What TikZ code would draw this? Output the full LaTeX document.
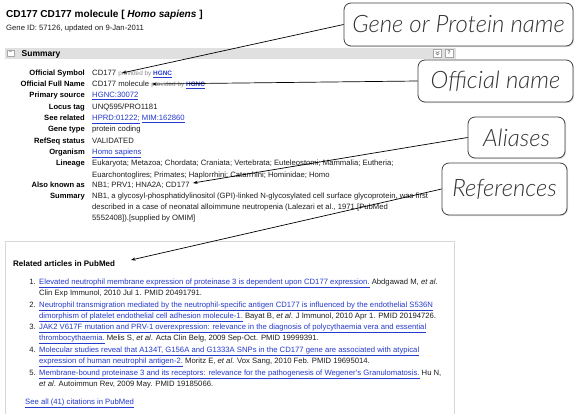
\documentclass[tikz,border=0pt]{standalone}
\usepackage{fontspec}
\setmainfont{Liberation Sans}
\newfontfamily\callfont{Lato Light Italic}
\usetikzlibrary{arrows.meta,shadows}
\definecolor{linkc}{RGB}{38,58,205}
\definecolor{txtc}{RGB}{30,30,30}
\definecolor{bandc}{RGB}{224,224,224}
\definecolor{framec}{RGB}{215,215,215}
\newcommand\lnk[1]{\textcolor{linkc}{\underline{#1}}}
\newcommand\prov{{\color{black!45}\fontsize{6.4}{7}\selectfont provided by \lnk{\bfseries HGNC}}}
\tikzset{
  tx/.style={inner sep=0pt, anchor=base west, font=\fontsize{7.7}{9}\selectfont, text=txtc},
  lb/.style={inner sep=0pt, anchor=base east, font=\fontsize{7.6}{9}\selectfont\bfseries, text=black},
  num/.style={inner sep=0pt, anchor=base east, font=\fontsize{7.7}{9}\selectfont, text=txtc},
  callout/.style={draw=black!75, line width=0.8pt, rounded corners=7pt, fill=white, inner sep=0pt,
    font=\callfont\fontsize{24}{28}\selectfont, text=black!80,
    drop shadow={opacity=0.25, shadow xshift=1pt, shadow yshift=-1pt}},
  pointer/.style={-{Stealth[length=4.5pt,width=3.2pt]}, line width=0.7pt, black},
  icon/.style={draw=black!35, fill=white, inner sep=0pt, minimum width=8pt, minimum height=8pt, font=\fontsize{5.5}{6}\selectfont\bfseries, text=black!60}
}
\begin{document}
\begin{tikzpicture}[x=1pt,y=-1pt]
\useasboundingbox (0,0) rectangle (575,413);
\fill[white] (0,0) rectangle (575,413);
% header
\node[tx, font=\fontsize{10.1}{12}\selectfont\bfseries, text=black] (title) at (6,17.6) {CD177 CD177 molecule [ \textit{Homo sapiens} ]};
\node[tx] (geneid) at (6,30.5) {Gene ID: 57126, updated on 9-Jan-2011};
% summary band
\fill[bandc] (5,47.5) rectangle (456,58.5);
\node[icon, minimum width=7pt, minimum height=6.5pt] (minus) at (10.5,53) {\raisebox{0.3pt}{\fontsize{5}{5}\selectfont\textminus}};
\node[tx, font=\fontsize{8.5}{10}\selectfont\bfseries, text=black] (sumhead) at (21.5,56) {Summary};
\node[icon] (upicon) at (437.5,53) {};
\draw[black!55, line width=0.5pt] ([xshift=-1.8pt,yshift=-0.2pt]upicon.center) -- ([yshift=-2pt]upicon.center) -- ([xshift=1.8pt,yshift=-0.2pt]upicon.center)
  ([xshift=-1.8pt,yshift=1.8pt]upicon.center) -- ([yshift=0pt]upicon.center) -- ([xshift=1.8pt,yshift=1.8pt]upicon.center);
\node[icon] (helpicon) at (449,53) {?};
% rows
\node[lb] (l1) at (85,75.5) {Official Symbol};
\node[tx] (v1) at (92,75.5) {CD177 \prov};
\node[lb] (l2) at (85,86.5) {Official Full Name};
\node[tx] (v2) at (92,86.5) {CD177 molecule \prov};
\node[lb] (l3) at (85,97.5) {Primary source};
\node[tx] (v3) at (92,97.5) {\lnk{HGNC:30072}};
\node[lb] (l4) at (85,109) {Locus tag};
\node[tx] (v4) at (92,109) {UNQ595/PRO1181};
\node[lb] (l5) at (85,120.5) {See related};
\node[tx] (v5) at (92,120.5) {\lnk{HPRD:01222;} \lnk{MIM:162860}};
\node[lb] (l6) at (85,131.5) {Gene type};
\node[tx] (v6) at (92,131.5) {protein coding};
\node[lb] (l7) at (85,143) {RefSeq status};
\node[tx] (v7) at (92,143) {VALIDATED};
\node[lb] (l8) at (85,154.5) {Organism};
\node[tx] (v8) at (92,154.5) {\lnk{Homo sapiens}};
\node[lb] (l9) at (85,165.5) {Lineage};
\node[tx] (v9) at (92,165.5) {Eukaryota; Metazoa; Chordata; Craniata; Vertebrata; Euteleostomi; Mammalia; Eutheria;};
\node[tx] (v9b) at (92,177) {Euarchontoglires; Primates; Haplorrhini; Catarrhini; Hominidae; Homo};
\node[lb] (l10) at (85,187.5) {Also known as};
\node[tx] (v10) at (92,187.5) {NB1; PRV1; HNA2A; CD177};
\node[lb] (l11) at (85,198.5) {Summary};
\node[tx] (v11) at (92,198.5) {NB1, a glycosyl-phosphatidylinositol (GPI)-linked N-glycosylated cell surface glycoprotein, was first};
\node[tx] (v11b) at (92,209.5) {described in a case of neonatal alloimmune neutropenia (Lalezari et al., 1971 [PubMed};
\node[tx] (v11c) at (92,220.5) {5552408]).[supplied by OMIM]};
% related articles frame
\draw[framec, line width=0.8pt] (5,414) -- (5,241) -- (454,241) -- (454,414);
\node[tx, font=\fontsize{8}{10}\selectfont\bfseries, text=black] (relhead) at (13,266) {Related articles in PubMed};
\node[num] (n1) at (36,284.5) {1.};
\node[tx] (r1a) at (39,284.5) {\lnk{Elevated neutrophil membrane expression of proteinase 3 is dependent upon CD177 expression.} Abdgawad M, \textit{et al}.};
\node[tx] (r1b) at (39,295.5) {Clin Exp Immunol, 2010 Jul 1. PMID 20491791.};
\node[num] (n2) at (36,307.5) {2.};
\node[tx] (r2a) at (39,307.5) {\lnk{Neutrophil transmigration mediated by the neutrophil-specific antigen CD177 is influenced by the endothelial S536N}};
\node[tx] (r2b) at (39,318.5) {\lnk{dimorphism of platelet endothelial cell adhesion molecule-1.} Bayat B, \textit{et al}. J Immunol, 2010 Apr 1. PMID 20194726.};
\node[num] (n3) at (36,329.5) {3.};
\node[tx] (r3a) at (39,329.5) {\lnk{JAK2 V617F mutation and PRV-1 overexpression: relevance in the diagnosis of polycythaemia vera and essential}};
\node[tx] (r3b) at (39,340.5) {\lnk{thrombocythaemia.} Melis S, \textit{et al}. Acta Clin Belg, 2009 Sep-Oct. PMID 19999391.};
\node[num] (n4) at (36,352.5) {4.};
\node[tx] (r4a) at (39,352.5) {\lnk{Molecular studies reveal that A134T, G156A and G1333A SNPs in the CD177 gene are associated with atypical}};
\node[tx] (r4b) at (39,363.5) {\lnk{expression of human neutrophil antigen-2.} Moritz E, \textit{et al}. Vox Sang, 2010 Feb. PMID 19695014.};
\node[num] (n5) at (36,375.5) {5.};
\node[tx] (r5a) at (39,375.5) {\lnk{Membrane-bound proteinase 3 and its receptors: relevance for the pathogenesis of Wegener's Granulomatosis.} Hu N,};
\node[tx] (r5b) at (39,386.5) {\textit{et al}. Autoimmun Rev, 2009 May. PMID 19185066.};
\node[tx] (seeall) at (25,404.5) {\lnk{See all (41) citations in PubMed}};
% callouts
\node[callout, minimum width=229pt, minimum height=43pt] (gpn) at (458.5,24.5) {Gene or Protein name};
\node[callout, minimum width=155pt, minimum height=42pt] (offn) at (495.5,81) {Official name};
\node[callout, minimum width=97pt, minimum height=41pt] (alias) at (516.5,137.5) {Aliases};
\node[callout, minimum width=125pt, minimum height=52pt] (refs) at (504.5,189) {References};
% tips
\coordinate (t1) at (122,73);
\coordinate (t2) at (152,84);
\coordinate (t3) at (193,183);
\coordinate (t4) at (131,260);
\draw[pointer] (gpn.west) -- (t1);
\draw[pointer] (offn.west) -- (t2);
\draw[pointer] (alias.west) -- (t3);
\draw[pointer] (refs.west) -- (t4);
\end{tikzpicture}
\end{document}
